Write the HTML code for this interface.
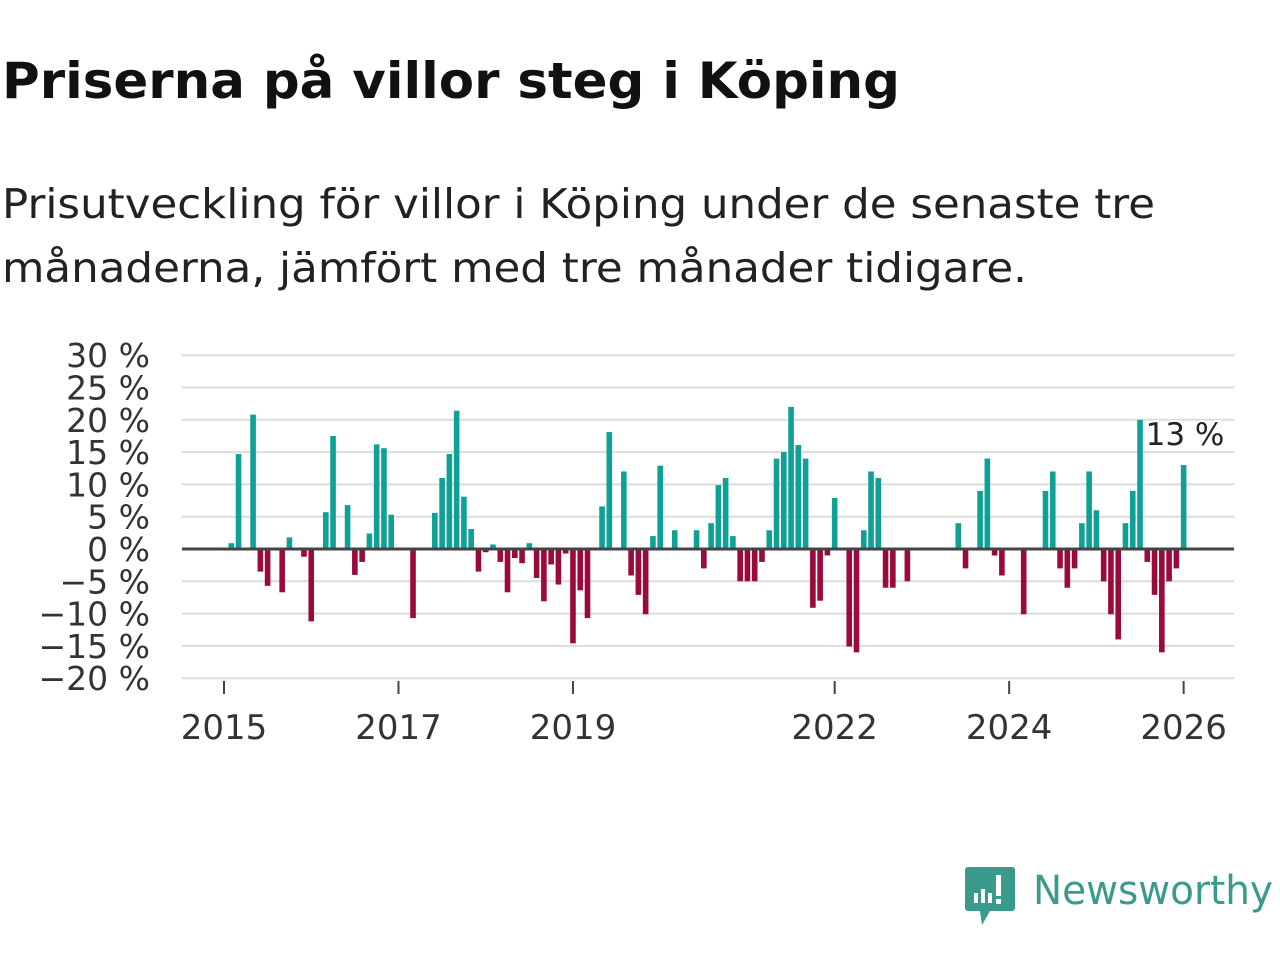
<!DOCTYPE html>
<html><head><meta charset="utf-8"><style>
body{margin:0;background:#fff;width:1280px;height:960px;overflow:hidden;font-family:"DejaVu Sans","Liberation Sans",sans-serif}
svg text{font-family:"DejaVu Sans","Liberation Sans",sans-serif}
</style></head><body>
<svg width="1280" height="960" xmlns="http://www.w3.org/2000/svg">
<text x="2" y="98" font-size="50" font-weight="bold" fill="#111" textLength="898" lengthAdjust="spacingAndGlyphs">Priserna på villor steg i Köping</text>
<text x="2" y="218" font-size="41" fill="#222" textLength="1153" lengthAdjust="spacingAndGlyphs">Prisutveckling för villor i Köping under de senaste tre</text>
<text x="2" y="282" font-size="41" fill="#222" textLength="1025" lengthAdjust="spacingAndGlyphs">månaderna, jämfört med tre månader tidigare.</text>
<g id="grid"></g><g id="bars"></g><g id="axes"></g>
<g>
<path d="M968 867 h44 a3 3 0 0 1 3 3 v38 a3 3 0 0 1 -3 3 h-22 l-8 14 l-2 -14 h-12 a3 3 0 0 1 -3 -3 v-38 a3 3 0 0 1 3 -3z" fill="#3a9a8c"/>
<rect x="974" y="893" width="4" height="10" fill="#fff"/><rect x="981" y="889" width="4" height="14" fill="#fff"/><rect x="988" y="893" width="4" height="10" fill="#fff"/><rect x="996" y="875" width="5" height="21" fill="#fff"/><rect x="996" y="899" width="5" height="5" fill="#fff"/>
<text x="1033" y="904" font-size="40" fill="#3a9a8c" textLength="240" lengthAdjust="spacingAndGlyphs">Newsworthy</text>
</g>
</svg>
<script>
const yTicks=[30,25,20,15,10,5,0,-5,-10,-15,-20];
const yTickLabels=["30 %","25 %","20 %","15 %","10 %","5 %","0 %","−5 %","−10 %","−15 %","−20 %"];
const xTickYears=[2015,2017,2019,2022,2024,2026];
const startYear=2015;
const values=[null,0.9,14.7,null,20.8,-3.5,-5.7,null,-6.7,1.8,null,-1.2,-11.2,null,5.7,17.5,null,6.8,-4,-2,2.4,16.2,15.6,5.3,null,null,-10.7,null,null,5.6,11,14.7,21.4,8.1,3.1,-3.5,-0.5,0.7,-2,-6.7,-1.4,-2.2,0.9,-4.5,-8.1,-2.4,-5.5,-0.7,-14.6,-6.4,-10.7,null,6.6,18.1,null,12,-4.1,-7.1,-10.1,2,12.9,null,2.9,null,null,2.9,-3,4,9.9,11,2,-5,-5,-5,-2,2.9,14,15,22,16.1,14,-9.1,-8,-1,7.9,null,-15.1,-16,2.9,12,11,-6,-6,null,-5,null,null,null,null,null,null,4,-3,null,9,14,-1,-4.1,null,null,-10.1,null,null,9,12,-3,-6,-3,4,12,6,-5,-10.1,-14,4,9,20,-2,-7.1,-16,-5,-3,13];
const lastLabel="13 %";
const NS="http://www.w3.org/2000/svg";
const y=v=>549-v*6.46;
const x=i=>224+i*7.27;
function mk(tag,attrs,parent){const e=document.createElementNS(NS,tag);for(const k in attrs)e.setAttribute(k,attrs[k]);document.getElementById(parent).appendChild(e);return e;}
yTicks.forEach((t,k)=>{
 if(t!==0){const l=mk('line',{x1:182,x2:1234,y1:y(t),y2:y(t),stroke:'#dcdcdc','stroke-width':2},'grid');
 
 }
 const tx=mk('text',{x:150,y:y(t)+12,'text-anchor':'end','font-size':33,fill:'#333'},'axes');tx.textContent=yTickLabels[k];
 
 
});
values.forEach((v,i)=>{if(v===null)return;
 const r=mk('rect',{x:x(i)-2.8,width:5.6,y:v>=0?y(v):y(0),height:Math.abs(y(v)-y(0)),fill:v>=0?'#0fa196':'#9b0a3c'},'bars');
 
 
});
const z=mk('line',{x1:182,x2:1234,y1:y(0),y2:y(0),stroke:'#444','stroke-width':3},'axes');


xTickYears.forEach(yr=>{const i=(yr-startYear)*12;
 const t=mk('line',{x1:x(i),x2:x(i),y1:681,y2:694,stroke:'#444','stroke-width':2},'axes');
 
 
 const tx=mk('text',{x:x(i),y:739,'text-anchor':'middle','font-size':34,fill:'#333'},'axes');tx.textContent=yr;
 
 
});
const li=values.length-1;
const lb=mk('text',{x:x(li)-38,y:y(values[li])-20,'font-size':31,fill:'#222','stroke':'#fff','stroke-width':4,'paint-order':'stroke'},'axes');lb.textContent=lastLabel;


</script>
</body></html>
